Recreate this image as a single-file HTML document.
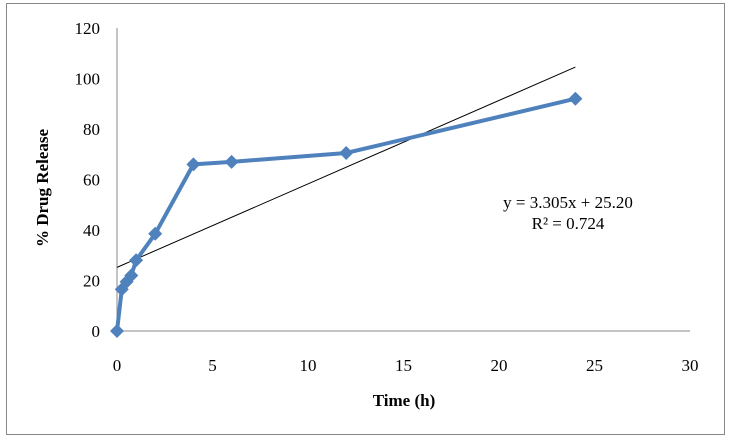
<!DOCTYPE html>
<html><head><meta charset="utf-8"><style>
body{margin:0;background:#fff;}
svg{display:block;font-family:"Liberation Serif",serif;}
</style></head><body>
<svg width="732" height="443">
<rect x="6.5" y="3.5" width="718" height="431" fill="#fff" stroke="#888"/>
<g id="axes"></g>
<g id="marks"></g>
<text x="40" y="180" transform="rotate(-90 48 180)" font-size="17" font-weight="bold" text-anchor="middle">% Drug Release</text>
<text x="404" y="406" font-size="17" font-weight="bold" text-anchor="middle">Time (h)</text>
<text x="568" y="208" font-size="17" text-anchor="middle">y = 3.305x + 25.20</text>
<text x="568" y="229" font-size="17" text-anchor="middle">R² = 0.724</text>
</svg>
<script>
const times=[0,0.25,0.5,0.75,1,2,4,6,12,24];
const release=[0,16.5,19.5,22,28,38.5,66,67,70.5,92];
const xTicks=[0,5,10,15,20,25,30];
const yTicks=[0,20,40,60,80,100,120];
const slope=3.305, intercept=25.20;
const X=v=>117+v*(690-117)/30;
const Y=v=>331-v*(331-28)/120;
const NS="http://www.w3.org/2000/svg";
const ax=document.getElementById('axes'), mk=document.getElementById('marks');
function mkEl(t,a,p){const e=document.createElementNS(NS,t);for(const k in a)e.setAttribute(k,a[k]);p.appendChild(e);return e;}
let l=mkEl('line',{x1:X(0),y1:Y(0),x2:X(30),y2:Y(0),stroke:'#888'},ax);


l=mkEl('line',{x1:X(0),y1:Y(0),x2:X(0),y2:Y(120),stroke:'#888'},ax);


xTicks.forEach(v=>{const t=mkEl('text',{x:X(v),y:371,'font-size':17,'text-anchor':'middle'},ax);t.textContent=v;

});
yTicks.forEach(v=>{const t=mkEl('text',{x:100,y:Y(v)+6,'font-size':17,'text-anchor':'end'},ax);t.textContent=v;

});
const tr=mkEl('line',{x1:X(0),y1:Y(intercept),x2:X(24),y2:Y(intercept+slope*24),stroke:'#000','stroke-width':1},mk);


const pl=mkEl('polyline',{points:times.map((t,i)=>X(t)+','+Y(release[i])).join(' '),fill:'none',stroke:'#4f81bd','stroke-width':4,'stroke-linejoin':'round'},mk);


times.forEach((t,i)=>{const x=X(t),y=Y(release[i]);
const d=mkEl('polygon',{points:`${x},${y-7} ${x+7},${y} ${x},${y+7} ${x-7},${y}`,fill:'#4f81bd'},mk);

});
</script>
</body></html>
